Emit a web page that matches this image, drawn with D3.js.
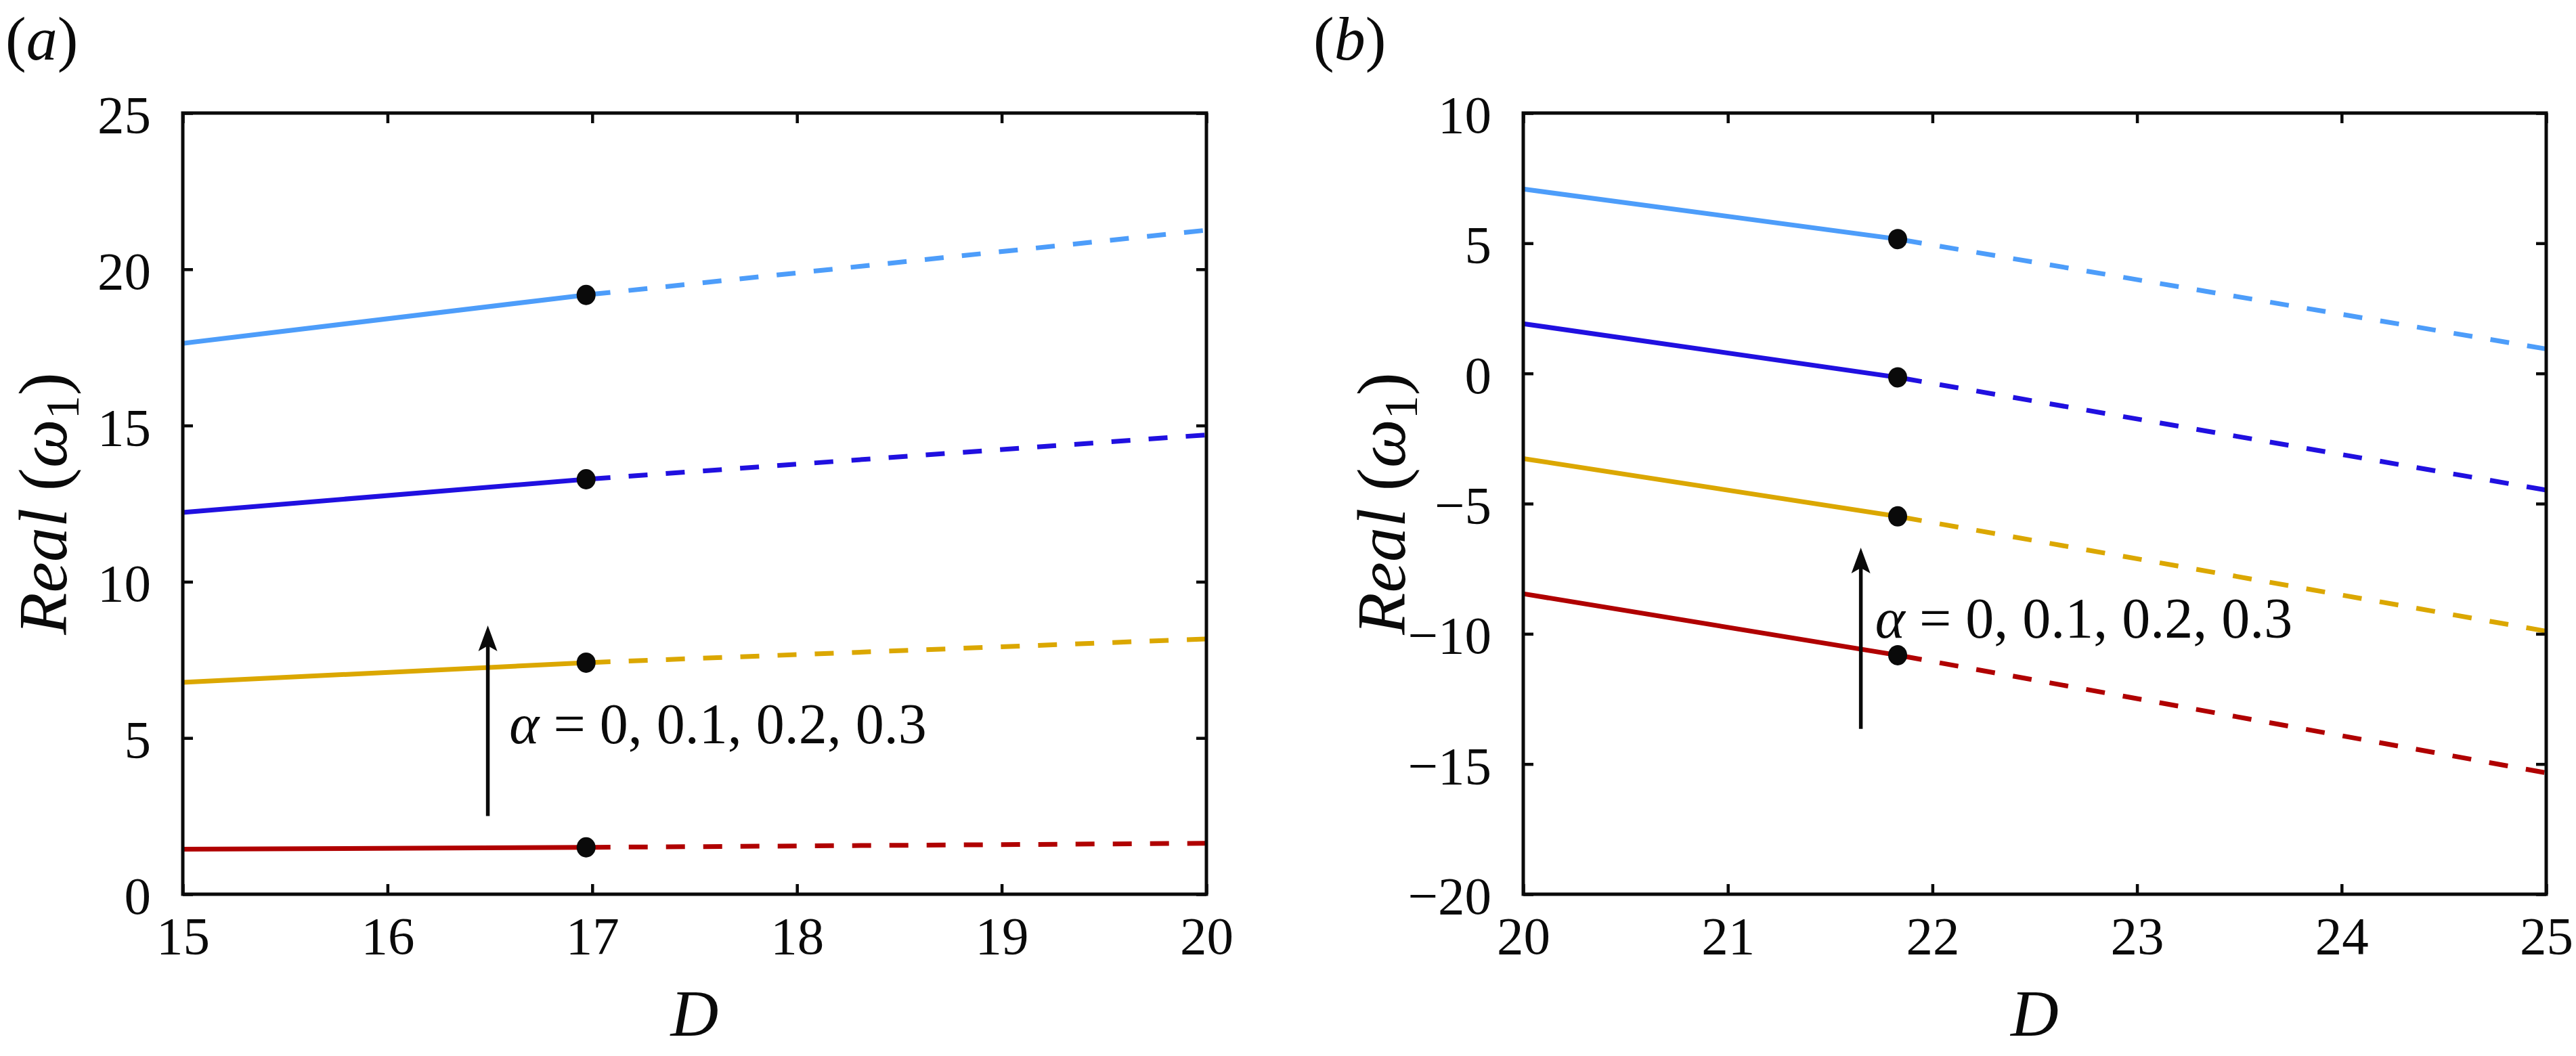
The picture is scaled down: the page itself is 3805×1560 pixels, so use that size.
<!DOCTYPE html>
<html>
<head>
<meta charset="utf-8">
<script src="https://cdn.jsdelivr.net/npm/d3@7"></script>
<style>
html, body { margin: 0; padding: 0; background: #fff; }
svg { display: block; }
svg text { font-family: "Liberation Serif", "Times New Roman", "DejaVu Serif", serif; fill: #0a0a0a; }
</style>
</head>
<body>
<svg id="chart" width="3805" height="1560"></svg>
<script>
// ---------------- DATA ----------------
const alphaValues = ["0", "0.1", "0.2", "0.3"];
const seriesColors = ["#b00000", "#dba700", "#2010e0", "#4d9dfa"];

// Panel (a): D at start, critical point (dot), end
const dA = [15, 16.97, 20];
const realA_alpha0  = [1.44, 1.50, 1.63];
const realA_alpha01 = [6.78, 7.41, 8.17];
const realA_alpha02 = [12.22, 13.28, 14.70];
const realA_alpha03 = [17.63, 19.18, 21.25];

// Panel (b)
const dB = [20, 21.83, 25];
const realB_alpha0  = [-8.46, -10.82, -15.34];
const realB_alpha01 = [-3.27, -5.49, -9.90];
const realB_alpha02 = [1.91, -0.15, -4.48];
const realB_alpha03 = [7.08, 5.16, 0.94];

const xTicksA = [15, 16, 17, 18, 19, 20];
const yTicksA = [0, 5, 10, 15, 20, 25];
const xTicksB = [20, 21, 22, 23, 24, 25];
const yTicksB = [-20, -15, -10, -5, 0, 5, 10];

// annotation arrows: [D, valueFrom, valueTo], text anchor [D, value]
const arrowA = [16.49, 2.5, 8.6];
const arrowTextA = [16.595, 4.83];
const arrowB = [21.65, -13.65, -6.69];
const arrowTextB = [21.72, -10.15];

// ---------------- LAYOUT ----------------
const SERIF = '"Liberation Serif", "Times New Roman", "DejaVu Serif", serif';
const svg = d3.select("#chart");
const FONT_TICK = 79, FONT_LABEL = 102, FONT_ANN = 84;
const TICK_LEN = 15;

function panel(opts) {
  const { x0, x1, y0, y1, xDomain, yDomain, xTicks, yTicks, dArr, series, arrow, arrowText, tag, tagX, ylabX } = opts;
  const x = d3.scaleLinear().domain(xDomain).range([x0, x1]);
  const y = d3.scaleLinear().domain(yDomain).range([y1, y0]);
  const g = svg.append("g").attr("font-family", SERIF);

  // series lines
  series.forEach((vals, i) => {
    const pts = dArr.map((d, j) => [d, vals[j]]);
    const line = d3.line().x(p => x(p[0])).y(p => y(p[1]));
    g.append("path").attr("d", line(pts.slice(0, 2)))
      .attr("fill", "none").attr("stroke", seriesColors[i]).attr("stroke-width", 7);
    g.append("path").attr("d", line(pts.slice(1, 3)))
      .attr("fill", "none").attr("stroke", seriesColors[i]).attr("stroke-width", 7)
      .attr("stroke-dasharray", "28,27").attr("stroke-dashoffset", -8);
  });
  // dots
  series.forEach((vals) => {
    g.append("ellipse").attr("cx", x(dArr[1])).attr("cy", y(vals[1]))
      .attr("rx", 14).attr("ry", 15).attr("fill", "#0a0a0a");
  });

  // frame
  g.append("rect").attr("x", x0).attr("y", y0).attr("width", x1 - x0).attr("height", y1 - y0)
    .attr("fill", "none").attr("stroke", "#0a0a0a").attr("stroke-width", 5);

  // axes (ticks inward on all four sides)
  const fmt = d3.format("");
  const axB = g.append("g").attr("transform", `translate(0,${y1})`)
    .call(d3.axisBottom(x).tickValues(xTicks).tickSize(-TICK_LEN).tickPadding(TICK_LEN + 32).tickFormat(fmt));
  const axT = g.append("g").attr("transform", `translate(0,${y0})`)
    .call(d3.axisTop(x).tickValues(xTicks).tickSize(-TICK_LEN).tickFormat(""));
  const axL = g.append("g").attr("transform", `translate(${x0},0)`)
    .call(d3.axisLeft(y).tickValues(yTicks).tickSize(-TICK_LEN).tickPadding(TICK_LEN + 32).tickFormat(d3.format("")));
  const axR = g.append("g").attr("transform", `translate(${x1},0)`)
    .call(d3.axisRight(y).tickValues(yTicks).tickSize(-TICK_LEN).tickFormat(""));
  [axB, axT, axL, axR].forEach(a => {
    a.attr("font-family", SERIF);
    a.select(".domain").remove();
    a.selectAll(".tick line").attr("stroke", "#0a0a0a").attr("stroke-width", 4.5);
    a.selectAll("text").attr("font-size", FONT_TICK).attr("fill", "#0a0a0a");
  });
  axB.selectAll("text").attr("dy", null).attr("y", null)
    .attr("transform", `translate(0, ${88})`);
  axL.selectAll("text").attr("dy", "0.36em");

  // x label
  g.append("text").attr("x", (x0 + x1) / 2).attr("y", 1530).attr("text-anchor", "middle")
    .attr("font-size", 98).attr("font-style", "italic").text("D");

  // y label
  const yl = g.append("text").attr("transform", `translate(${ylabX},${(y0 + y1) / 2}) rotate(-90)`)
    .attr("text-anchor", "middle").attr("font-size", FONT_LABEL);
  yl.append("tspan").attr("font-style", "italic").text("Real ");
  yl.append("tspan").text("(");
  yl.append("tspan").attr("font-style", "italic").text("ω");
  yl.append("tspan").attr("font-size", 70).attr("dy", 18).text("1");
  yl.append("tspan").attr("dy", -18).text(")");

  // panel tag
  const tg = svg.append("text").attr("x", tagX).attr("y", 88).attr("font-size", 92);
  tg.append("tspan").text("(");
  tg.append("tspan").attr("font-style", "italic").text(tag);
  tg.append("tspan").text(")");

  // arrow
  const ax = x(arrow[0]), ay0 = y(arrow[1]), ay1 = y(arrow[2]);
  g.append("line").attr("x1", ax).attr("x2", ax).attr("y1", ay0).attr("y2", ay1 + 25)
    .attr("stroke", "#0a0a0a").attr("stroke-width", 5.5);
  g.append("path")
    .attr("d", `M${ax},${ay1} L${ax - 14},${ay1 + 38} L${ax},${ay1 + 30} L${ax + 14},${ay1 + 38} Z`)
    .attr("fill", "#0a0a0a");

  // annotation text
  const at = g.append("text").attr("x", x(arrowText[0])).attr("y", y(arrowText[1]))
    .attr("font-size", FONT_ANN);
  at.append("tspan").attr("font-style", "italic").text("α");
  at.append("tspan").text(" = " + alphaValues.join(", "));
}

panel({
  x0: 270, x1: 1782, y0: 167, y1: 1321,
  xDomain: [15, 20], yDomain: [0, 25],
  xTicks: xTicksA, yTicks: yTicksA, dArr: dA,
  series: [realA_alpha0, realA_alpha01, realA_alpha02, realA_alpha03],
  arrow: arrowA, arrowText: arrowTextA, tag: "a", tagX: 8, ylabX: 98
});
panel({
  x0: 2250, x1: 3761, y0: 167, y1: 1321,
  xDomain: [20, 25], yDomain: [-20, 10],
  xTicks: xTicksB, yTicks: yTicksB, dArr: dB,
  series: [realB_alpha0, realB_alpha01, realB_alpha02, realB_alpha03],
  arrow: arrowB, arrowText: arrowTextB, tag: "b", tagX: 1940, ylabX: 2075
});
</script>
</body>
</html>
